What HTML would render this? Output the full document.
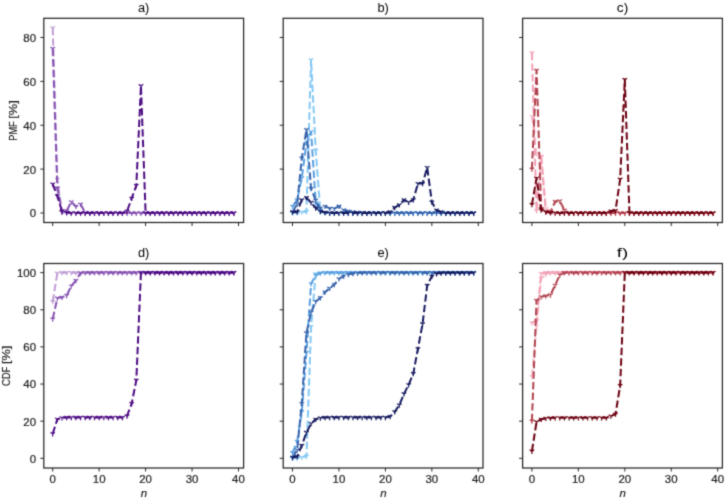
<!DOCTYPE html>
<html><head><meta charset="utf-8"><style>
html,body{margin:0;padding:0;background:#fff;}
body{width:725px;height:498px;overflow:hidden;}
svg{display:block;font-family:"Liberation Sans", sans-serif;will-change:transform;}
</style></head><body><div id="w">
<svg width="725" height="498" viewBox="0 0 725 498">
<rect width="725" height="498" fill="#fff"/>
<defs>
<filter id="bl" x="0" y="0" width="725" height="498" filterUnits="userSpaceOnUse" color-interpolation-filters="sRGB"><feConvolveMatrix order="3" kernelMatrix="0.02560 0.10880 0.02560 0.10880 0.46240 0.10880 0.02560 0.10880 0.02560" divisor="1" edgeMode="duplicate" preserveAlpha="false"/></filter>
<path id="m" d="M0,0V2.7M0,0L-2.3,-1.35M0,0L2.3,-1.35" />
<clipPath id="c00"><rect x="43.8" y="18.3" width="199.8" height="204.2"/></clipPath>
<clipPath id="c01"><rect x="283.2" y="18.3" width="199.8" height="204.2"/></clipPath>
<clipPath id="c02"><rect x="522.6" y="18.3" width="199.8" height="204.2"/></clipPath>
<clipPath id="c10"><rect x="43.8" y="263.5" width="199.8" height="204.5"/></clipPath>
<clipPath id="c11"><rect x="283.2" y="263.5" width="199.8" height="204.5"/></clipPath>
<clipPath id="c12"><rect x="522.6" y="263.5" width="199.8" height="204.5"/></clipPath>
</defs>
<g filter="url(#bl)">
<g clip-path="url(#c00)">
<path d="M52.7,27.83 L57.34,179.43 L61.99,212.34 L66.64,213 L71.28,213 L75.92,213 L80.57,213 L85.22,213 L89.86,213 L94.5,213 L99.15,213 L103.8,213 L108.44,213 L113.08,213 L117.73,213 L122.38,213 L127.02,213 L131.66,213 L136.31,213 L140.95,213 L145.6,213 L150.25,213 L154.89,213 L159.53,213 L164.18,213 L168.82,213 L173.47,213 L178.12,213 L182.76,213 L187.4,213 L192.05,213 L196.69,213 L201.34,213 L205.99,213 L210.63,213 L215.27,213 L219.92,213 L224.56,213 L229.21,213 L233.85,213" fill="none" stroke="#bf9cd4" stroke-width="2" stroke-dasharray="7.4 3.2" stroke-linejoin="round"/>
<g stroke="#bf9cd4" stroke-width="1.25" fill="none"><use href="#m" x="52.7" y="27.83"/><use href="#m" x="57.34" y="179.43"/><use href="#m" x="61.99" y="212.34"/><use href="#m" x="66.64" y="213"/><use href="#m" x="71.28" y="213"/><use href="#m" x="75.92" y="213"/><use href="#m" x="80.57" y="213"/><use href="#m" x="85.22" y="213"/><use href="#m" x="89.86" y="213"/><use href="#m" x="94.5" y="213"/><use href="#m" x="99.15" y="213"/><use href="#m" x="103.8" y="213"/><use href="#m" x="108.44" y="213"/><use href="#m" x="113.08" y="213"/><use href="#m" x="117.73" y="213"/><use href="#m" x="122.38" y="213"/><use href="#m" x="127.02" y="213"/><use href="#m" x="131.66" y="213"/><use href="#m" x="136.31" y="213"/><use href="#m" x="140.95" y="213"/><use href="#m" x="145.6" y="213"/><use href="#m" x="150.25" y="213"/><use href="#m" x="154.89" y="213"/><use href="#m" x="159.53" y="213"/><use href="#m" x="164.18" y="213"/><use href="#m" x="168.82" y="213"/><use href="#m" x="173.47" y="213"/><use href="#m" x="178.12" y="213"/><use href="#m" x="182.76" y="213"/><use href="#m" x="187.4" y="213"/><use href="#m" x="192.05" y="213"/><use href="#m" x="196.69" y="213"/><use href="#m" x="201.34" y="213"/><use href="#m" x="205.99" y="213"/><use href="#m" x="210.63" y="213"/><use href="#m" x="215.27" y="213"/><use href="#m" x="219.92" y="213"/><use href="#m" x="224.56" y="213"/><use href="#m" x="229.21" y="213"/><use href="#m" x="233.85" y="213"/></g>
<path d="M52.7,48.45 L57.34,188.21 L61.99,212.12 L66.64,210.81 L71.28,201.81 L75.92,206.42 L80.57,204.22 L85.22,212.56 L89.86,213 L94.5,213 L99.15,213 L103.8,213 L108.44,213 L113.08,213 L117.73,213 L122.38,213 L127.02,213 L131.66,213 L136.31,213 L140.95,213 L145.6,213 L150.25,213 L154.89,213 L159.53,213 L164.18,213 L168.82,213 L173.47,213 L178.12,213 L182.76,213 L187.4,213 L192.05,213 L196.69,213 L201.34,213 L205.99,213 L210.63,213 L215.27,213 L219.92,213 L224.56,213 L229.21,213 L233.85,213" fill="none" stroke="#8652b2" stroke-width="2" stroke-dasharray="7.4 3.2" stroke-linejoin="round"/>
<g stroke="#8652b2" stroke-width="1.25" fill="none"><use href="#m" x="52.7" y="48.45"/><use href="#m" x="57.34" y="188.21"/><use href="#m" x="61.99" y="212.12"/><use href="#m" x="66.64" y="210.81"/><use href="#m" x="71.28" y="201.81"/><use href="#m" x="75.92" y="206.42"/><use href="#m" x="80.57" y="204.22"/><use href="#m" x="85.22" y="212.56"/><use href="#m" x="89.86" y="213"/><use href="#m" x="94.5" y="213"/><use href="#m" x="99.15" y="213"/><use href="#m" x="103.8" y="213"/><use href="#m" x="108.44" y="213"/><use href="#m" x="113.08" y="213"/><use href="#m" x="117.73" y="213"/><use href="#m" x="122.38" y="213"/><use href="#m" x="127.02" y="213"/><use href="#m" x="131.66" y="213"/><use href="#m" x="136.31" y="213"/><use href="#m" x="140.95" y="213"/><use href="#m" x="145.6" y="213"/><use href="#m" x="150.25" y="213"/><use href="#m" x="154.89" y="213"/><use href="#m" x="159.53" y="213"/><use href="#m" x="164.18" y="213"/><use href="#m" x="168.82" y="213"/><use href="#m" x="173.47" y="213"/><use href="#m" x="178.12" y="213"/><use href="#m" x="182.76" y="213"/><use href="#m" x="187.4" y="213"/><use href="#m" x="192.05" y="213"/><use href="#m" x="196.69" y="213"/><use href="#m" x="201.34" y="213"/><use href="#m" x="205.99" y="213"/><use href="#m" x="210.63" y="213"/><use href="#m" x="215.27" y="213"/><use href="#m" x="219.92" y="213"/><use href="#m" x="224.56" y="213"/><use href="#m" x="229.21" y="213"/><use href="#m" x="233.85" y="213"/></g>
<path d="M52.7,184.04 L57.34,195.89 L61.99,211.24 L66.64,212.56 L71.28,213 L75.92,213 L80.57,213 L85.22,213 L89.86,213 L94.5,213 L99.15,213 L103.8,213 L108.44,213 L113.08,213 L117.73,213 L122.38,213 L127.02,211.24 L131.66,198.3 L136.31,185.57 L140.95,85.75 L145.6,213 L150.25,213 L154.89,213 L159.53,213 L164.18,213 L168.82,213 L173.47,213 L178.12,213 L182.76,213 L187.4,213 L192.05,213 L196.69,213 L201.34,213 L205.99,213 L210.63,213 L215.27,213 L219.92,213 L224.56,213 L229.21,213 L233.85,213" fill="none" stroke="#4b0a82" stroke-width="2" stroke-dasharray="7.4 3.2" stroke-linejoin="round"/>
<g stroke="#4b0a82" stroke-width="1.25" fill="none"><use href="#m" x="52.7" y="184.04"/><use href="#m" x="57.34" y="195.89"/><use href="#m" x="61.99" y="211.24"/><use href="#m" x="66.64" y="212.56"/><use href="#m" x="71.28" y="213"/><use href="#m" x="75.92" y="213"/><use href="#m" x="80.57" y="213"/><use href="#m" x="85.22" y="213"/><use href="#m" x="89.86" y="213"/><use href="#m" x="94.5" y="213"/><use href="#m" x="99.15" y="213"/><use href="#m" x="103.8" y="213"/><use href="#m" x="108.44" y="213"/><use href="#m" x="113.08" y="213"/><use href="#m" x="117.73" y="213"/><use href="#m" x="122.38" y="213"/><use href="#m" x="127.02" y="211.24"/><use href="#m" x="131.66" y="198.3"/><use href="#m" x="136.31" y="185.57"/><use href="#m" x="140.95" y="85.75"/><use href="#m" x="145.6" y="213"/><use href="#m" x="150.25" y="213"/><use href="#m" x="154.89" y="213"/><use href="#m" x="159.53" y="213"/><use href="#m" x="164.18" y="213"/><use href="#m" x="168.82" y="213"/><use href="#m" x="173.47" y="213"/><use href="#m" x="178.12" y="213"/><use href="#m" x="182.76" y="213"/><use href="#m" x="187.4" y="213"/><use href="#m" x="192.05" y="213"/><use href="#m" x="196.69" y="213"/><use href="#m" x="201.34" y="213"/><use href="#m" x="205.99" y="213"/><use href="#m" x="210.63" y="213"/><use href="#m" x="215.27" y="213"/><use href="#m" x="219.92" y="213"/><use href="#m" x="224.56" y="213"/><use href="#m" x="229.21" y="213"/><use href="#m" x="233.85" y="213"/></g>
</g>
<g clip-path="url(#c01)">
<path d="M292.5,213 L297.14,212.78 L301.79,212.12 L306.44,211.68 L311.08,59.86 L315.73,150.47 L320.37,211.9 L325.01,212.78 L329.66,213 L334.31,213 L338.95,213 L343.6,213 L348.24,213 L352.88,213 L357.53,213 L362.18,213 L366.82,213 L371.46,213 L376.11,213 L380.75,213 L385.4,213 L390.04,213 L394.69,213 L399.33,213 L403.98,213 L408.62,213 L413.27,213 L417.91,213 L422.56,213 L427.2,213 L431.85,213 L436.5,213 L441.14,213 L445.78,213 L450.43,213 L455.07,213 L459.72,213 L464.37,213 L469.01,213 L473.65,213" fill="none" stroke="#84c8f4" stroke-width="2" stroke-dasharray="7.4 3.2" stroke-linejoin="round"/>
<g stroke="#84c8f4" stroke-width="1.25" fill="none"><use href="#m" x="292.5" y="213"/><use href="#m" x="297.14" y="212.78"/><use href="#m" x="301.79" y="212.12"/><use href="#m" x="306.44" y="211.68"/><use href="#m" x="311.08" y="59.86"/><use href="#m" x="315.73" y="150.47"/><use href="#m" x="320.37" y="211.9"/><use href="#m" x="325.01" y="212.78"/><use href="#m" x="329.66" y="213"/><use href="#m" x="334.31" y="213"/><use href="#m" x="338.95" y="213"/><use href="#m" x="343.6" y="213"/><use href="#m" x="348.24" y="213"/><use href="#m" x="352.88" y="213"/><use href="#m" x="357.53" y="213"/><use href="#m" x="362.18" y="213"/><use href="#m" x="366.82" y="213"/><use href="#m" x="371.46" y="213"/><use href="#m" x="376.11" y="213"/><use href="#m" x="380.75" y="213"/><use href="#m" x="385.4" y="213"/><use href="#m" x="390.04" y="213"/><use href="#m" x="394.69" y="213"/><use href="#m" x="399.33" y="213"/><use href="#m" x="403.98" y="213"/><use href="#m" x="408.62" y="213"/><use href="#m" x="413.27" y="213"/><use href="#m" x="417.91" y="213"/><use href="#m" x="422.56" y="213"/><use href="#m" x="427.2" y="213"/><use href="#m" x="431.85" y="213"/><use href="#m" x="436.5" y="213"/><use href="#m" x="441.14" y="213"/><use href="#m" x="445.78" y="213"/><use href="#m" x="450.43" y="213"/><use href="#m" x="455.07" y="213"/><use href="#m" x="459.72" y="213"/><use href="#m" x="464.37" y="213"/><use href="#m" x="469.01" y="213"/><use href="#m" x="473.65" y="213"/></g>
<path d="M292.5,206.42 L297.14,199.84 L301.79,177.9 L306.44,142.79 L311.08,131.82 L315.73,202.91 L320.37,210.37 L325.01,212.56 L329.66,213 L334.31,213 L338.95,213 L343.6,213 L348.24,213 L352.88,213 L357.53,213 L362.18,213 L366.82,213 L371.46,213 L376.11,213 L380.75,213 L385.4,213 L390.04,213 L394.69,213 L399.33,213 L403.98,213 L408.62,213 L413.27,213 L417.91,213 L422.56,213 L427.2,213 L431.85,213 L436.5,213 L441.14,213 L445.78,213 L450.43,213 L455.07,213 L459.72,213 L464.37,213 L469.01,213 L473.65,213" fill="none" stroke="#5a9fe0" stroke-width="2" stroke-dasharray="7.4 3.2" stroke-linejoin="round"/>
<g stroke="#5a9fe0" stroke-width="1.25" fill="none"><use href="#m" x="292.5" y="206.42"/><use href="#m" x="297.14" y="199.84"/><use href="#m" x="301.79" y="177.9"/><use href="#m" x="306.44" y="142.79"/><use href="#m" x="311.08" y="131.82"/><use href="#m" x="315.73" y="202.91"/><use href="#m" x="320.37" y="210.37"/><use href="#m" x="325.01" y="212.56"/><use href="#m" x="329.66" y="213"/><use href="#m" x="334.31" y="213"/><use href="#m" x="338.95" y="213"/><use href="#m" x="343.6" y="213"/><use href="#m" x="348.24" y="213"/><use href="#m" x="352.88" y="213"/><use href="#m" x="357.53" y="213"/><use href="#m" x="362.18" y="213"/><use href="#m" x="366.82" y="213"/><use href="#m" x="371.46" y="213"/><use href="#m" x="376.11" y="213"/><use href="#m" x="380.75" y="213"/><use href="#m" x="385.4" y="213"/><use href="#m" x="390.04" y="213"/><use href="#m" x="394.69" y="213"/><use href="#m" x="399.33" y="213"/><use href="#m" x="403.98" y="213"/><use href="#m" x="408.62" y="213"/><use href="#m" x="413.27" y="213"/><use href="#m" x="417.91" y="213"/><use href="#m" x="422.56" y="213"/><use href="#m" x="427.2" y="213"/><use href="#m" x="431.85" y="213"/><use href="#m" x="436.5" y="213"/><use href="#m" x="441.14" y="213"/><use href="#m" x="445.78" y="213"/><use href="#m" x="450.43" y="213"/><use href="#m" x="455.07" y="213"/><use href="#m" x="459.72" y="213"/><use href="#m" x="464.37" y="213"/><use href="#m" x="469.01" y="213"/><use href="#m" x="473.65" y="213"/></g>
<path d="M292.5,211.9 L297.14,204.22 L301.79,158.15 L306.44,129.63 L311.08,188.65 L315.73,200.27 L320.37,208.39 L325.01,206.42 L329.66,208.39 L334.31,208.61 L338.95,206.2 L343.6,209.93 L348.24,211.03 L352.88,211.9 L357.53,212.34 L362.18,212.56 L366.82,213 L371.46,213 L376.11,213 L380.75,213 L385.4,213 L390.04,213 L394.69,213 L399.33,213 L403.98,213 L408.62,213 L413.27,213 L417.91,213 L422.56,213 L427.2,213 L431.85,213 L436.5,213 L441.14,213 L445.78,213 L450.43,213 L455.07,213 L459.72,213 L464.37,213 L469.01,213 L473.65,213" fill="none" stroke="#3763ab" stroke-width="2" stroke-dasharray="7.4 3.2" stroke-linejoin="round"/>
<g stroke="#3763ab" stroke-width="1.25" fill="none"><use href="#m" x="292.5" y="211.9"/><use href="#m" x="297.14" y="204.22"/><use href="#m" x="301.79" y="158.15"/><use href="#m" x="306.44" y="129.63"/><use href="#m" x="311.08" y="188.65"/><use href="#m" x="315.73" y="200.27"/><use href="#m" x="320.37" y="208.39"/><use href="#m" x="325.01" y="206.42"/><use href="#m" x="329.66" y="208.39"/><use href="#m" x="334.31" y="208.61"/><use href="#m" x="338.95" y="206.2"/><use href="#m" x="343.6" y="209.93"/><use href="#m" x="348.24" y="211.03"/><use href="#m" x="352.88" y="211.9"/><use href="#m" x="357.53" y="212.34"/><use href="#m" x="362.18" y="212.56"/><use href="#m" x="366.82" y="213"/><use href="#m" x="371.46" y="213"/><use href="#m" x="376.11" y="213"/><use href="#m" x="380.75" y="213"/><use href="#m" x="385.4" y="213"/><use href="#m" x="390.04" y="213"/><use href="#m" x="394.69" y="213"/><use href="#m" x="399.33" y="213"/><use href="#m" x="403.98" y="213"/><use href="#m" x="408.62" y="213"/><use href="#m" x="413.27" y="213"/><use href="#m" x="417.91" y="213"/><use href="#m" x="422.56" y="213"/><use href="#m" x="427.2" y="213"/><use href="#m" x="431.85" y="213"/><use href="#m" x="436.5" y="213"/><use href="#m" x="441.14" y="213"/><use href="#m" x="445.78" y="213"/><use href="#m" x="450.43" y="213"/><use href="#m" x="455.07" y="213"/><use href="#m" x="459.72" y="213"/><use href="#m" x="464.37" y="213"/><use href="#m" x="469.01" y="213"/><use href="#m" x="473.65" y="213"/></g>
<path d="M292.5,212.12 L297.14,211.9 L301.79,199.84 L306.44,197.64 L311.08,202.47 L315.73,207.95 L320.37,211.46 L325.01,212.34 L329.66,213 L334.31,213 L338.95,213 L343.6,213 L348.24,213 L352.88,213 L357.53,213 L362.18,213 L366.82,213 L371.46,213 L376.11,213 L380.75,213 L385.4,213 L390.04,211.9 L394.69,207.51 L399.33,204.88 L403.98,199.84 L408.62,202.25 L413.27,199.84 L417.91,183.6 L422.56,183.6 L427.2,167.58 L431.85,202.03 L436.5,210.15 L441.14,211.9 L445.78,213 L450.43,213 L455.07,213 L459.72,213 L464.37,213 L469.01,213 L473.65,213" fill="none" stroke="#16195e" stroke-width="2" stroke-dasharray="7.4 3.2" stroke-linejoin="round"/>
<g stroke="#16195e" stroke-width="1.25" fill="none"><use href="#m" x="292.5" y="212.12"/><use href="#m" x="297.14" y="211.9"/><use href="#m" x="301.79" y="199.84"/><use href="#m" x="306.44" y="197.64"/><use href="#m" x="311.08" y="202.47"/><use href="#m" x="315.73" y="207.95"/><use href="#m" x="320.37" y="211.46"/><use href="#m" x="325.01" y="212.34"/><use href="#m" x="329.66" y="213"/><use href="#m" x="334.31" y="213"/><use href="#m" x="338.95" y="213"/><use href="#m" x="343.6" y="213"/><use href="#m" x="348.24" y="213"/><use href="#m" x="352.88" y="213"/><use href="#m" x="357.53" y="213"/><use href="#m" x="362.18" y="213"/><use href="#m" x="366.82" y="213"/><use href="#m" x="371.46" y="213"/><use href="#m" x="376.11" y="213"/><use href="#m" x="380.75" y="213"/><use href="#m" x="385.4" y="213"/><use href="#m" x="390.04" y="211.9"/><use href="#m" x="394.69" y="207.51"/><use href="#m" x="399.33" y="204.88"/><use href="#m" x="403.98" y="199.84"/><use href="#m" x="408.62" y="202.25"/><use href="#m" x="413.27" y="199.84"/><use href="#m" x="417.91" y="183.6"/><use href="#m" x="422.56" y="183.6"/><use href="#m" x="427.2" y="167.58"/><use href="#m" x="431.85" y="202.03"/><use href="#m" x="436.5" y="210.15"/><use href="#m" x="441.14" y="211.9"/><use href="#m" x="445.78" y="213"/><use href="#m" x="450.43" y="213"/><use href="#m" x="455.07" y="213"/><use href="#m" x="459.72" y="213"/><use href="#m" x="464.37" y="213"/><use href="#m" x="469.01" y="213"/><use href="#m" x="473.65" y="213"/></g>
</g>
<g clip-path="url(#c02)">
<path d="M531.9,116.46 L536.54,153.76 L541.19,155.96 L545.83,208.61 L550.48,210.81 L555.12,213 L559.77,213 L564.41,213 L569.06,213 L573.7,213 L578.35,213 L583,213 L587.64,213 L592.28,213 L596.93,213 L601.57,213 L606.22,213 L610.87,213 L615.51,213 L620.15,213 L624.8,213 L629.44,213 L634.09,213 L638.74,213 L643.38,213 L648.02,213 L652.67,213 L657.31,213 L661.96,213 L666.61,213 L671.25,213 L675.89,213 L680.54,213 L685.18,213 L689.83,213 L694.47,213 L699.12,213 L703.76,213 L708.41,213 L713.05,213" fill="none" stroke="#f6bccb" stroke-width="2" stroke-dasharray="7.4 3.2" stroke-linejoin="round"/>
<g stroke="#f6bccb" stroke-width="1.25" fill="none"><use href="#m" x="531.9" y="116.46"/><use href="#m" x="536.54" y="153.76"/><use href="#m" x="541.19" y="155.96"/><use href="#m" x="545.83" y="208.61"/><use href="#m" x="550.48" y="210.81"/><use href="#m" x="555.12" y="213"/><use href="#m" x="559.77" y="213"/><use href="#m" x="564.41" y="213"/><use href="#m" x="569.06" y="213"/><use href="#m" x="573.7" y="213"/><use href="#m" x="578.35" y="213"/><use href="#m" x="583" y="213"/><use href="#m" x="587.64" y="213"/><use href="#m" x="592.28" y="213"/><use href="#m" x="596.93" y="213"/><use href="#m" x="601.57" y="213"/><use href="#m" x="606.22" y="213"/><use href="#m" x="610.87" y="213"/><use href="#m" x="615.51" y="213"/><use href="#m" x="620.15" y="213"/><use href="#m" x="624.8" y="213"/><use href="#m" x="629.44" y="213"/><use href="#m" x="634.09" y="213"/><use href="#m" x="638.74" y="213"/><use href="#m" x="643.38" y="213"/><use href="#m" x="648.02" y="213"/><use href="#m" x="652.67" y="213"/><use href="#m" x="657.31" y="213"/><use href="#m" x="661.96" y="213"/><use href="#m" x="666.61" y="213"/><use href="#m" x="671.25" y="213"/><use href="#m" x="675.89" y="213"/><use href="#m" x="680.54" y="213"/><use href="#m" x="685.18" y="213"/><use href="#m" x="689.83" y="213"/><use href="#m" x="694.47" y="213"/><use href="#m" x="699.12" y="213"/><use href="#m" x="703.76" y="213"/><use href="#m" x="708.41" y="213"/><use href="#m" x="713.05" y="213"/></g>
<path d="M531.9,52.84 L536.54,210.81 L541.19,157.05 L545.83,211.9 L550.48,213 L555.12,213 L559.77,213 L564.41,213 L569.06,213 L573.7,213 L578.35,213 L583,213 L587.64,213 L592.28,213 L596.93,213 L601.57,213 L606.22,213 L610.87,213 L615.51,213 L620.15,213 L624.8,213 L629.44,213 L634.09,213 L638.74,213 L643.38,213 L648.02,213 L652.67,213 L657.31,213 L661.96,213 L666.61,213 L671.25,213 L675.89,213 L680.54,213 L685.18,213 L689.83,213 L694.47,213 L699.12,213 L703.76,213 L708.41,213 L713.05,213" fill="none" stroke="#f2a0b4" stroke-width="2" stroke-dasharray="7.4 3.2" stroke-linejoin="round"/>
<g stroke="#f2a0b4" stroke-width="1.25" fill="none"><use href="#m" x="531.9" y="52.84"/><use href="#m" x="536.54" y="210.81"/><use href="#m" x="541.19" y="157.05"/><use href="#m" x="545.83" y="211.9"/><use href="#m" x="550.48" y="213"/><use href="#m" x="555.12" y="213"/><use href="#m" x="559.77" y="213"/><use href="#m" x="564.41" y="213"/><use href="#m" x="569.06" y="213"/><use href="#m" x="573.7" y="213"/><use href="#m" x="578.35" y="213"/><use href="#m" x="583" y="213"/><use href="#m" x="587.64" y="213"/><use href="#m" x="592.28" y="213"/><use href="#m" x="596.93" y="213"/><use href="#m" x="601.57" y="213"/><use href="#m" x="606.22" y="213"/><use href="#m" x="610.87" y="213"/><use href="#m" x="615.51" y="213"/><use href="#m" x="620.15" y="213"/><use href="#m" x="624.8" y="213"/><use href="#m" x="629.44" y="213"/><use href="#m" x="634.09" y="213"/><use href="#m" x="638.74" y="213"/><use href="#m" x="643.38" y="213"/><use href="#m" x="648.02" y="213"/><use href="#m" x="652.67" y="213"/><use href="#m" x="657.31" y="213"/><use href="#m" x="661.96" y="213"/><use href="#m" x="666.61" y="213"/><use href="#m" x="671.25" y="213"/><use href="#m" x="675.89" y="213"/><use href="#m" x="680.54" y="213"/><use href="#m" x="685.18" y="213"/><use href="#m" x="689.83" y="213"/><use href="#m" x="694.47" y="213"/><use href="#m" x="699.12" y="213"/><use href="#m" x="703.76" y="213"/><use href="#m" x="708.41" y="213"/><use href="#m" x="713.05" y="213"/></g>
<path d="M531.9,169.12 L536.54,70.39 L541.19,208.61 L545.83,211.9 L550.48,211.9 L555.12,201.59 L559.77,200.93 L564.41,210.15 L569.06,213 L573.7,213 L578.35,213 L583,213 L587.64,213 L592.28,213 L596.93,213 L601.57,213 L606.22,213 L610.87,213 L615.51,213 L620.15,213 L624.8,213 L629.44,213 L634.09,213 L638.74,213 L643.38,213 L648.02,213 L652.67,213 L657.31,213 L661.96,213 L666.61,213 L671.25,213 L675.89,213 L680.54,213 L685.18,213 L689.83,213 L694.47,213 L699.12,213 L703.76,213 L708.41,213 L713.05,213" fill="none" stroke="#b0424e" stroke-width="2" stroke-dasharray="7.4 3.2" stroke-linejoin="round"/>
<g stroke="#b0424e" stroke-width="1.25" fill="none"><use href="#m" x="531.9" y="169.12"/><use href="#m" x="536.54" y="70.39"/><use href="#m" x="541.19" y="208.61"/><use href="#m" x="545.83" y="211.9"/><use href="#m" x="550.48" y="211.9"/><use href="#m" x="555.12" y="201.59"/><use href="#m" x="559.77" y="200.93"/><use href="#m" x="564.41" y="210.15"/><use href="#m" x="569.06" y="213"/><use href="#m" x="573.7" y="213"/><use href="#m" x="578.35" y="213"/><use href="#m" x="583" y="213"/><use href="#m" x="587.64" y="213"/><use href="#m" x="592.28" y="213"/><use href="#m" x="596.93" y="213"/><use href="#m" x="601.57" y="213"/><use href="#m" x="606.22" y="213"/><use href="#m" x="610.87" y="213"/><use href="#m" x="615.51" y="213"/><use href="#m" x="620.15" y="213"/><use href="#m" x="624.8" y="213"/><use href="#m" x="629.44" y="213"/><use href="#m" x="634.09" y="213"/><use href="#m" x="638.74" y="213"/><use href="#m" x="643.38" y="213"/><use href="#m" x="648.02" y="213"/><use href="#m" x="652.67" y="213"/><use href="#m" x="657.31" y="213"/><use href="#m" x="661.96" y="213"/><use href="#m" x="666.61" y="213"/><use href="#m" x="671.25" y="213"/><use href="#m" x="675.89" y="213"/><use href="#m" x="680.54" y="213"/><use href="#m" x="685.18" y="213"/><use href="#m" x="689.83" y="213"/><use href="#m" x="694.47" y="213"/><use href="#m" x="699.12" y="213"/><use href="#m" x="703.76" y="213"/><use href="#m" x="708.41" y="213"/><use href="#m" x="713.05" y="213"/></g>
<path d="M531.9,204.66 L536.54,178.33 L541.19,209.93 L545.83,211.9 L550.48,212.56 L555.12,212.78 L559.77,213 L564.41,213 L569.06,213 L573.7,213 L578.35,213 L583,213 L587.64,213 L592.28,213 L596.93,213 L601.57,213 L606.22,213 L610.87,211.03 L615.51,210.59 L620.15,179.21 L624.8,79.6 L629.44,213 L634.09,213 L638.74,213 L643.38,213 L648.02,213 L652.67,213 L657.31,213 L661.96,213 L666.61,213 L671.25,213 L675.89,213 L680.54,213 L685.18,213 L689.83,213 L694.47,213 L699.12,213 L703.76,213 L708.41,213 L713.05,213" fill="none" stroke="#6b0010" stroke-width="2" stroke-dasharray="7.4 3.2" stroke-linejoin="round"/>
<g stroke="#6b0010" stroke-width="1.25" fill="none"><use href="#m" x="531.9" y="204.66"/><use href="#m" x="536.54" y="178.33"/><use href="#m" x="541.19" y="209.93"/><use href="#m" x="545.83" y="211.9"/><use href="#m" x="550.48" y="212.56"/><use href="#m" x="555.12" y="212.78"/><use href="#m" x="559.77" y="213"/><use href="#m" x="564.41" y="213"/><use href="#m" x="569.06" y="213"/><use href="#m" x="573.7" y="213"/><use href="#m" x="578.35" y="213"/><use href="#m" x="583" y="213"/><use href="#m" x="587.64" y="213"/><use href="#m" x="592.28" y="213"/><use href="#m" x="596.93" y="213"/><use href="#m" x="601.57" y="213"/><use href="#m" x="606.22" y="213"/><use href="#m" x="610.87" y="211.03"/><use href="#m" x="615.51" y="210.59"/><use href="#m" x="620.15" y="179.21"/><use href="#m" x="624.8" y="79.6"/><use href="#m" x="629.44" y="213"/><use href="#m" x="634.09" y="213"/><use href="#m" x="638.74" y="213"/><use href="#m" x="643.38" y="213"/><use href="#m" x="648.02" y="213"/><use href="#m" x="652.67" y="213"/><use href="#m" x="657.31" y="213"/><use href="#m" x="661.96" y="213"/><use href="#m" x="666.61" y="213"/><use href="#m" x="671.25" y="213"/><use href="#m" x="675.89" y="213"/><use href="#m" x="680.54" y="213"/><use href="#m" x="685.18" y="213"/><use href="#m" x="689.83" y="213"/><use href="#m" x="694.47" y="213"/><use href="#m" x="699.12" y="213"/><use href="#m" x="703.76" y="213"/><use href="#m" x="708.41" y="213"/><use href="#m" x="713.05" y="213"/></g>
</g>
<g clip-path="url(#c10)">
<path d="M52.7,301.61 L57.34,273.21 L61.99,272.65 L66.64,272.65 L71.28,272.65 L75.92,272.65 L80.57,272.65 L85.22,272.65 L89.86,272.65 L94.5,272.65 L99.15,272.65 L103.8,272.65 L108.44,272.65 L113.08,272.65 L117.73,272.65 L122.38,272.65 L127.02,272.65 L131.66,272.65 L136.31,272.65 L140.95,272.65 L145.6,272.65 L150.25,272.65 L154.89,272.65 L159.53,272.65 L164.18,272.65 L168.82,272.65 L173.47,272.65 L178.12,272.65 L182.76,272.65 L187.4,272.65 L192.05,272.65 L196.69,272.65 L201.34,272.65 L205.99,272.65 L210.63,272.65 L215.27,272.65 L219.92,272.65 L224.56,272.65 L229.21,272.65 L233.85,272.65" fill="none" stroke="#bf9cd4" stroke-width="2" stroke-dasharray="7.4 3.2" stroke-linejoin="round"/>
<g stroke="#bf9cd4" stroke-width="1.25" fill="none"><use href="#m" x="52.7" y="301.61"/><use href="#m" x="57.34" y="273.21"/><use href="#m" x="61.99" y="272.65"/><use href="#m" x="66.64" y="272.65"/><use href="#m" x="71.28" y="272.65"/><use href="#m" x="75.92" y="272.65"/><use href="#m" x="80.57" y="272.65"/><use href="#m" x="85.22" y="272.65"/><use href="#m" x="89.86" y="272.65"/><use href="#m" x="94.5" y="272.65"/><use href="#m" x="99.15" y="272.65"/><use href="#m" x="103.8" y="272.65"/><use href="#m" x="108.44" y="272.65"/><use href="#m" x="113.08" y="272.65"/><use href="#m" x="117.73" y="272.65"/><use href="#m" x="122.38" y="272.65"/><use href="#m" x="127.02" y="272.65"/><use href="#m" x="131.66" y="272.65"/><use href="#m" x="136.31" y="272.65"/><use href="#m" x="140.95" y="272.65"/><use href="#m" x="145.6" y="272.65"/><use href="#m" x="150.25" y="272.65"/><use href="#m" x="154.89" y="272.65"/><use href="#m" x="159.53" y="272.65"/><use href="#m" x="164.18" y="272.65"/><use href="#m" x="168.82" y="272.65"/><use href="#m" x="173.47" y="272.65"/><use href="#m" x="178.12" y="272.65"/><use href="#m" x="182.76" y="272.65"/><use href="#m" x="187.4" y="272.65"/><use href="#m" x="192.05" y="272.65"/><use href="#m" x="196.69" y="272.65"/><use href="#m" x="201.34" y="272.65"/><use href="#m" x="205.99" y="272.65"/><use href="#m" x="210.63" y="272.65"/><use href="#m" x="215.27" y="272.65"/><use href="#m" x="219.92" y="272.65"/><use href="#m" x="224.56" y="272.65"/><use href="#m" x="229.21" y="272.65"/><use href="#m" x="233.85" y="272.65"/></g>
<path d="M52.7,319.06 L57.34,298.08 L61.99,297.34 L66.64,295.48 L71.28,286.02 L75.92,280.45 L80.57,273.02 L85.22,272.65 L89.86,272.65 L94.5,272.65 L99.15,272.65 L103.8,272.65 L108.44,272.65 L113.08,272.65 L117.73,272.65 L122.38,272.65 L127.02,272.65 L131.66,272.65 L136.31,272.65 L140.95,272.65 L145.6,272.65 L150.25,272.65 L154.89,272.65 L159.53,272.65 L164.18,272.65 L168.82,272.65 L173.47,272.65 L178.12,272.65 L182.76,272.65 L187.4,272.65 L192.05,272.65 L196.69,272.65 L201.34,272.65 L205.99,272.65 L210.63,272.65 L215.27,272.65 L219.92,272.65 L224.56,272.65 L229.21,272.65 L233.85,272.65" fill="none" stroke="#8652b2" stroke-width="2" stroke-dasharray="7.4 3.2" stroke-linejoin="round"/>
<g stroke="#8652b2" stroke-width="1.25" fill="none"><use href="#m" x="52.7" y="319.06"/><use href="#m" x="57.34" y="298.08"/><use href="#m" x="61.99" y="297.34"/><use href="#m" x="66.64" y="295.48"/><use href="#m" x="71.28" y="286.02"/><use href="#m" x="75.92" y="280.45"/><use href="#m" x="80.57" y="273.02"/><use href="#m" x="85.22" y="272.65"/><use href="#m" x="89.86" y="272.65"/><use href="#m" x="94.5" y="272.65"/><use href="#m" x="99.15" y="272.65"/><use href="#m" x="103.8" y="272.65"/><use href="#m" x="108.44" y="272.65"/><use href="#m" x="113.08" y="272.65"/><use href="#m" x="117.73" y="272.65"/><use href="#m" x="122.38" y="272.65"/><use href="#m" x="127.02" y="272.65"/><use href="#m" x="131.66" y="272.65"/><use href="#m" x="136.31" y="272.65"/><use href="#m" x="140.95" y="272.65"/><use href="#m" x="145.6" y="272.65"/><use href="#m" x="150.25" y="272.65"/><use href="#m" x="154.89" y="272.65"/><use href="#m" x="159.53" y="272.65"/><use href="#m" x="164.18" y="272.65"/><use href="#m" x="168.82" y="272.65"/><use href="#m" x="173.47" y="272.65"/><use href="#m" x="178.12" y="272.65"/><use href="#m" x="182.76" y="272.65"/><use href="#m" x="187.4" y="272.65"/><use href="#m" x="192.05" y="272.65"/><use href="#m" x="196.69" y="272.65"/><use href="#m" x="201.34" y="272.65"/><use href="#m" x="205.99" y="272.65"/><use href="#m" x="210.63" y="272.65"/><use href="#m" x="215.27" y="272.65"/><use href="#m" x="219.92" y="272.65"/><use href="#m" x="224.56" y="272.65"/><use href="#m" x="229.21" y="272.65"/><use href="#m" x="233.85" y="272.65"/></g>
<path d="M52.7,433.79 L57.34,419.31 L61.99,417.83 L66.64,417.46 L71.28,417.46 L75.92,417.46 L80.57,417.46 L85.22,417.46 L89.86,417.46 L94.5,417.46 L99.15,417.46 L103.8,417.46 L108.44,417.46 L113.08,417.46 L117.73,417.46 L122.38,417.46 L127.02,415.97 L131.66,403.53 L136.31,380.33 L140.95,272.65 L145.6,272.65 L150.25,272.65 L154.89,272.65 L159.53,272.65 L164.18,272.65 L168.82,272.65 L173.47,272.65 L178.12,272.65 L182.76,272.65 L187.4,272.65 L192.05,272.65 L196.69,272.65 L201.34,272.65 L205.99,272.65 L210.63,272.65 L215.27,272.65 L219.92,272.65 L224.56,272.65 L229.21,272.65 L233.85,272.65" fill="none" stroke="#4b0a82" stroke-width="2" stroke-dasharray="7.4 3.2" stroke-linejoin="round"/>
<g stroke="#4b0a82" stroke-width="1.25" fill="none"><use href="#m" x="52.7" y="433.79"/><use href="#m" x="57.34" y="419.31"/><use href="#m" x="61.99" y="417.83"/><use href="#m" x="66.64" y="417.46"/><use href="#m" x="71.28" y="417.46"/><use href="#m" x="75.92" y="417.46"/><use href="#m" x="80.57" y="417.46"/><use href="#m" x="85.22" y="417.46"/><use href="#m" x="89.86" y="417.46"/><use href="#m" x="94.5" y="417.46"/><use href="#m" x="99.15" y="417.46"/><use href="#m" x="103.8" y="417.46"/><use href="#m" x="108.44" y="417.46"/><use href="#m" x="113.08" y="417.46"/><use href="#m" x="117.73" y="417.46"/><use href="#m" x="122.38" y="417.46"/><use href="#m" x="127.02" y="415.97"/><use href="#m" x="131.66" y="403.53"/><use href="#m" x="136.31" y="380.33"/><use href="#m" x="140.95" y="272.65"/><use href="#m" x="145.6" y="272.65"/><use href="#m" x="150.25" y="272.65"/><use href="#m" x="154.89" y="272.65"/><use href="#m" x="159.53" y="272.65"/><use href="#m" x="164.18" y="272.65"/><use href="#m" x="168.82" y="272.65"/><use href="#m" x="173.47" y="272.65"/><use href="#m" x="178.12" y="272.65"/><use href="#m" x="182.76" y="272.65"/><use href="#m" x="187.4" y="272.65"/><use href="#m" x="192.05" y="272.65"/><use href="#m" x="196.69" y="272.65"/><use href="#m" x="201.34" y="272.65"/><use href="#m" x="205.99" y="272.65"/><use href="#m" x="210.63" y="272.65"/><use href="#m" x="215.27" y="272.65"/><use href="#m" x="219.92" y="272.65"/><use href="#m" x="224.56" y="272.65"/><use href="#m" x="229.21" y="272.65"/><use href="#m" x="233.85" y="272.65"/></g>
</g>
<g clip-path="url(#c11)">
<path d="M292.5,458.3 L297.14,458.11 L301.79,457.37 L306.44,456.26 L311.08,326.67 L315.73,273.76 L320.37,272.84 L325.01,272.65 L329.66,272.65 L334.31,272.65 L338.95,272.65 L343.6,272.65 L348.24,272.65 L352.88,272.65 L357.53,272.65 L362.18,272.65 L366.82,272.65 L371.46,272.65 L376.11,272.65 L380.75,272.65 L385.4,272.65 L390.04,272.65 L394.69,272.65 L399.33,272.65 L403.98,272.65 L408.62,272.65 L413.27,272.65 L417.91,272.65 L422.56,272.65 L427.2,272.65 L431.85,272.65 L436.5,272.65 L441.14,272.65 L445.78,272.65 L450.43,272.65 L455.07,272.65 L459.72,272.65 L464.37,272.65 L469.01,272.65 L473.65,272.65" fill="none" stroke="#84c8f4" stroke-width="2" stroke-dasharray="7.4 3.2" stroke-linejoin="round"/>
<g stroke="#84c8f4" stroke-width="1.25" fill="none"><use href="#m" x="292.5" y="458.3"/><use href="#m" x="297.14" y="458.11"/><use href="#m" x="301.79" y="457.37"/><use href="#m" x="306.44" y="456.26"/><use href="#m" x="311.08" y="326.67"/><use href="#m" x="315.73" y="273.76"/><use href="#m" x="320.37" y="272.84"/><use href="#m" x="325.01" y="272.65"/><use href="#m" x="329.66" y="272.65"/><use href="#m" x="334.31" y="272.65"/><use href="#m" x="338.95" y="272.65"/><use href="#m" x="343.6" y="272.65"/><use href="#m" x="348.24" y="272.65"/><use href="#m" x="352.88" y="272.65"/><use href="#m" x="357.53" y="272.65"/><use href="#m" x="362.18" y="272.65"/><use href="#m" x="366.82" y="272.65"/><use href="#m" x="371.46" y="272.65"/><use href="#m" x="376.11" y="272.65"/><use href="#m" x="380.75" y="272.65"/><use href="#m" x="385.4" y="272.65"/><use href="#m" x="390.04" y="272.65"/><use href="#m" x="394.69" y="272.65"/><use href="#m" x="399.33" y="272.65"/><use href="#m" x="403.98" y="272.65"/><use href="#m" x="408.62" y="272.65"/><use href="#m" x="413.27" y="272.65"/><use href="#m" x="417.91" y="272.65"/><use href="#m" x="422.56" y="272.65"/><use href="#m" x="427.2" y="272.65"/><use href="#m" x="431.85" y="272.65"/><use href="#m" x="436.5" y="272.65"/><use href="#m" x="441.14" y="272.65"/><use href="#m" x="445.78" y="272.65"/><use href="#m" x="450.43" y="272.65"/><use href="#m" x="455.07" y="272.65"/><use href="#m" x="459.72" y="272.65"/><use href="#m" x="464.37" y="272.65"/><use href="#m" x="469.01" y="272.65"/><use href="#m" x="473.65" y="272.65"/></g>
<path d="M292.5,452.73 L297.14,441.59 L301.79,411.89 L306.44,352.48 L311.08,283.79 L315.73,275.25 L320.37,273.02 L325.01,272.65 L329.66,272.65 L334.31,272.65 L338.95,272.65 L343.6,272.65 L348.24,272.65 L352.88,272.65 L357.53,272.65 L362.18,272.65 L366.82,272.65 L371.46,272.65 L376.11,272.65 L380.75,272.65 L385.4,272.65 L390.04,272.65 L394.69,272.65 L399.33,272.65 L403.98,272.65 L408.62,272.65 L413.27,272.65 L417.91,272.65 L422.56,272.65 L427.2,272.65 L431.85,272.65 L436.5,272.65 L441.14,272.65 L445.78,272.65 L450.43,272.65 L455.07,272.65 L459.72,272.65 L464.37,272.65 L469.01,272.65 L473.65,272.65" fill="none" stroke="#5a9fe0" stroke-width="2" stroke-dasharray="7.4 3.2" stroke-linejoin="round"/>
<g stroke="#5a9fe0" stroke-width="1.25" fill="none"><use href="#m" x="292.5" y="452.73"/><use href="#m" x="297.14" y="441.59"/><use href="#m" x="301.79" y="411.89"/><use href="#m" x="306.44" y="352.48"/><use href="#m" x="311.08" y="283.79"/><use href="#m" x="315.73" y="275.25"/><use href="#m" x="320.37" y="273.02"/><use href="#m" x="325.01" y="272.65"/><use href="#m" x="329.66" y="272.65"/><use href="#m" x="334.31" y="272.65"/><use href="#m" x="338.95" y="272.65"/><use href="#m" x="343.6" y="272.65"/><use href="#m" x="348.24" y="272.65"/><use href="#m" x="352.88" y="272.65"/><use href="#m" x="357.53" y="272.65"/><use href="#m" x="362.18" y="272.65"/><use href="#m" x="366.82" y="272.65"/><use href="#m" x="371.46" y="272.65"/><use href="#m" x="376.11" y="272.65"/><use href="#m" x="380.75" y="272.65"/><use href="#m" x="385.4" y="272.65"/><use href="#m" x="390.04" y="272.65"/><use href="#m" x="394.69" y="272.65"/><use href="#m" x="399.33" y="272.65"/><use href="#m" x="403.98" y="272.65"/><use href="#m" x="408.62" y="272.65"/><use href="#m" x="413.27" y="272.65"/><use href="#m" x="417.91" y="272.65"/><use href="#m" x="422.56" y="272.65"/><use href="#m" x="427.2" y="272.65"/><use href="#m" x="431.85" y="272.65"/><use href="#m" x="436.5" y="272.65"/><use href="#m" x="441.14" y="272.65"/><use href="#m" x="445.78" y="272.65"/><use href="#m" x="450.43" y="272.65"/><use href="#m" x="455.07" y="272.65"/><use href="#m" x="459.72" y="272.65"/><use href="#m" x="464.37" y="272.65"/><use href="#m" x="469.01" y="272.65"/><use href="#m" x="473.65" y="272.65"/></g>
<path d="M292.5,457.37 L297.14,449.95 L301.79,403.53 L306.44,332.99 L311.08,312.38 L315.73,301.61 L320.37,297.71 L325.01,292.14 L329.66,288.24 L334.31,284.53 L338.95,278.78 L343.6,276.18 L348.24,274.51 L352.88,273.58 L357.53,273.02 L362.18,272.65 L366.82,272.65 L371.46,272.65 L376.11,272.65 L380.75,272.65 L385.4,272.65 L390.04,272.65 L394.69,272.65 L399.33,272.65 L403.98,272.65 L408.62,272.65 L413.27,272.65 L417.91,272.65 L422.56,272.65 L427.2,272.65 L431.85,272.65 L436.5,272.65 L441.14,272.65 L445.78,272.65 L450.43,272.65 L455.07,272.65 L459.72,272.65 L464.37,272.65 L469.01,272.65 L473.65,272.65" fill="none" stroke="#3763ab" stroke-width="2" stroke-dasharray="7.4 3.2" stroke-linejoin="round"/>
<g stroke="#3763ab" stroke-width="1.25" fill="none"><use href="#m" x="292.5" y="457.37"/><use href="#m" x="297.14" y="449.95"/><use href="#m" x="301.79" y="403.53"/><use href="#m" x="306.44" y="332.99"/><use href="#m" x="311.08" y="312.38"/><use href="#m" x="315.73" y="301.61"/><use href="#m" x="320.37" y="297.71"/><use href="#m" x="325.01" y="292.14"/><use href="#m" x="329.66" y="288.24"/><use href="#m" x="334.31" y="284.53"/><use href="#m" x="338.95" y="278.78"/><use href="#m" x="343.6" y="276.18"/><use href="#m" x="348.24" y="274.51"/><use href="#m" x="352.88" y="273.58"/><use href="#m" x="357.53" y="273.02"/><use href="#m" x="362.18" y="272.65"/><use href="#m" x="366.82" y="272.65"/><use href="#m" x="371.46" y="272.65"/><use href="#m" x="376.11" y="272.65"/><use href="#m" x="380.75" y="272.65"/><use href="#m" x="385.4" y="272.65"/><use href="#m" x="390.04" y="272.65"/><use href="#m" x="394.69" y="272.65"/><use href="#m" x="399.33" y="272.65"/><use href="#m" x="403.98" y="272.65"/><use href="#m" x="408.62" y="272.65"/><use href="#m" x="413.27" y="272.65"/><use href="#m" x="417.91" y="272.65"/><use href="#m" x="422.56" y="272.65"/><use href="#m" x="427.2" y="272.65"/><use href="#m" x="431.85" y="272.65"/><use href="#m" x="436.5" y="272.65"/><use href="#m" x="441.14" y="272.65"/><use href="#m" x="445.78" y="272.65"/><use href="#m" x="450.43" y="272.65"/><use href="#m" x="455.07" y="272.65"/><use href="#m" x="459.72" y="272.65"/><use href="#m" x="464.37" y="272.65"/><use href="#m" x="469.01" y="272.65"/><use href="#m" x="473.65" y="272.65"/></g>
<path d="M292.5,457.56 L297.14,456.63 L301.79,445.49 L306.44,432.49 L311.08,423.58 L315.73,419.31 L320.37,418.01 L325.01,417.46 L329.66,417.46 L334.31,417.46 L338.95,417.46 L343.6,417.46 L348.24,417.46 L352.88,417.46 L357.53,417.46 L362.18,417.46 L366.82,417.46 L371.46,417.46 L376.11,417.46 L380.75,417.46 L385.4,417.46 L390.04,416.53 L394.69,411.89 L399.33,405.02 L403.98,393.88 L408.62,384.78 L413.27,373.64 L417.91,348.77 L422.56,323.89 L427.2,285.46 L431.85,276.18 L436.5,273.76 L441.14,272.84 L445.78,272.84 L450.43,272.84 L455.07,272.84 L459.72,272.84 L464.37,272.84 L469.01,272.84 L473.65,272.84" fill="none" stroke="#16195e" stroke-width="2" stroke-dasharray="7.4 3.2" stroke-linejoin="round"/>
<g stroke="#16195e" stroke-width="1.25" fill="none"><use href="#m" x="292.5" y="457.56"/><use href="#m" x="297.14" y="456.63"/><use href="#m" x="301.79" y="445.49"/><use href="#m" x="306.44" y="432.49"/><use href="#m" x="311.08" y="423.58"/><use href="#m" x="315.73" y="419.31"/><use href="#m" x="320.37" y="418.01"/><use href="#m" x="325.01" y="417.46"/><use href="#m" x="329.66" y="417.46"/><use href="#m" x="334.31" y="417.46"/><use href="#m" x="338.95" y="417.46"/><use href="#m" x="343.6" y="417.46"/><use href="#m" x="348.24" y="417.46"/><use href="#m" x="352.88" y="417.46"/><use href="#m" x="357.53" y="417.46"/><use href="#m" x="362.18" y="417.46"/><use href="#m" x="366.82" y="417.46"/><use href="#m" x="371.46" y="417.46"/><use href="#m" x="376.11" y="417.46"/><use href="#m" x="380.75" y="417.46"/><use href="#m" x="385.4" y="417.46"/><use href="#m" x="390.04" y="416.53"/><use href="#m" x="394.69" y="411.89"/><use href="#m" x="399.33" y="405.02"/><use href="#m" x="403.98" y="393.88"/><use href="#m" x="408.62" y="384.78"/><use href="#m" x="413.27" y="373.64"/><use href="#m" x="417.91" y="348.77"/><use href="#m" x="422.56" y="323.89"/><use href="#m" x="427.2" y="285.46"/><use href="#m" x="431.85" y="276.18"/><use href="#m" x="436.5" y="273.76"/><use href="#m" x="441.14" y="272.84"/><use href="#m" x="445.78" y="272.84"/><use href="#m" x="450.43" y="272.84"/><use href="#m" x="455.07" y="272.84"/><use href="#m" x="459.72" y="272.84"/><use href="#m" x="464.37" y="272.84"/><use href="#m" x="469.01" y="272.84"/><use href="#m" x="473.65" y="272.84"/></g>
</g>
<g clip-path="url(#c12)">
<path d="M531.9,376.61 L536.54,326.49 L541.19,278.22 L545.83,274.51 L550.48,272.65 L555.12,272.65 L559.77,272.65 L564.41,272.65 L569.06,272.65 L573.7,272.65 L578.35,272.65 L583,272.65 L587.64,272.65 L592.28,272.65 L596.93,272.65 L601.57,272.65 L606.22,272.65 L610.87,272.65 L615.51,272.65 L620.15,272.65 L624.8,272.65 L629.44,272.65 L634.09,272.65 L638.74,272.65 L643.38,272.65 L648.02,272.65 L652.67,272.65 L657.31,272.65 L661.96,272.65 L666.61,272.65 L671.25,272.65 L675.89,272.65 L680.54,272.65 L685.18,272.65 L689.83,272.65 L694.47,272.65 L699.12,272.65 L703.76,272.65 L708.41,272.65 L713.05,272.65" fill="none" stroke="#f6bccb" stroke-width="2" stroke-dasharray="7.4 3.2" stroke-linejoin="round"/>
<g stroke="#f6bccb" stroke-width="1.25" fill="none"><use href="#m" x="531.9" y="376.61"/><use href="#m" x="536.54" y="326.49"/><use href="#m" x="541.19" y="278.22"/><use href="#m" x="545.83" y="274.51"/><use href="#m" x="550.48" y="272.65"/><use href="#m" x="555.12" y="272.65"/><use href="#m" x="559.77" y="272.65"/><use href="#m" x="564.41" y="272.65"/><use href="#m" x="569.06" y="272.65"/><use href="#m" x="573.7" y="272.65"/><use href="#m" x="578.35" y="272.65"/><use href="#m" x="583" y="272.65"/><use href="#m" x="587.64" y="272.65"/><use href="#m" x="592.28" y="272.65"/><use href="#m" x="596.93" y="272.65"/><use href="#m" x="601.57" y="272.65"/><use href="#m" x="606.22" y="272.65"/><use href="#m" x="610.87" y="272.65"/><use href="#m" x="615.51" y="272.65"/><use href="#m" x="620.15" y="272.65"/><use href="#m" x="624.8" y="272.65"/><use href="#m" x="629.44" y="272.65"/><use href="#m" x="634.09" y="272.65"/><use href="#m" x="638.74" y="272.65"/><use href="#m" x="643.38" y="272.65"/><use href="#m" x="648.02" y="272.65"/><use href="#m" x="652.67" y="272.65"/><use href="#m" x="657.31" y="272.65"/><use href="#m" x="661.96" y="272.65"/><use href="#m" x="666.61" y="272.65"/><use href="#m" x="671.25" y="272.65"/><use href="#m" x="675.89" y="272.65"/><use href="#m" x="680.54" y="272.65"/><use href="#m" x="685.18" y="272.65"/><use href="#m" x="689.83" y="272.65"/><use href="#m" x="694.47" y="272.65"/><use href="#m" x="699.12" y="272.65"/><use href="#m" x="703.76" y="272.65"/><use href="#m" x="708.41" y="272.65"/><use href="#m" x="713.05" y="272.65"/></g>
<path d="M531.9,322.78 L536.54,320.92 L541.19,273.58 L545.83,272.65 L550.48,272.65 L555.12,272.65 L559.77,272.65 L564.41,272.65 L569.06,272.65 L573.7,272.65 L578.35,272.65 L583,272.65 L587.64,272.65 L592.28,272.65 L596.93,272.65 L601.57,272.65 L606.22,272.65 L610.87,272.65 L615.51,272.65 L620.15,272.65 L624.8,272.65 L629.44,272.65 L634.09,272.65 L638.74,272.65 L643.38,272.65 L648.02,272.65 L652.67,272.65 L657.31,272.65 L661.96,272.65 L666.61,272.65 L671.25,272.65 L675.89,272.65 L680.54,272.65 L685.18,272.65 L689.83,272.65 L694.47,272.65 L699.12,272.65 L703.76,272.65 L708.41,272.65 L713.05,272.65" fill="none" stroke="#f2a0b4" stroke-width="2" stroke-dasharray="7.4 3.2" stroke-linejoin="round"/>
<g stroke="#f2a0b4" stroke-width="1.25" fill="none"><use href="#m" x="531.9" y="322.78"/><use href="#m" x="536.54" y="320.92"/><use href="#m" x="541.19" y="273.58"/><use href="#m" x="545.83" y="272.65"/><use href="#m" x="550.48" y="272.65"/><use href="#m" x="555.12" y="272.65"/><use href="#m" x="559.77" y="272.65"/><use href="#m" x="564.41" y="272.65"/><use href="#m" x="569.06" y="272.65"/><use href="#m" x="573.7" y="272.65"/><use href="#m" x="578.35" y="272.65"/><use href="#m" x="583" y="272.65"/><use href="#m" x="587.64" y="272.65"/><use href="#m" x="592.28" y="272.65"/><use href="#m" x="596.93" y="272.65"/><use href="#m" x="601.57" y="272.65"/><use href="#m" x="606.22" y="272.65"/><use href="#m" x="610.87" y="272.65"/><use href="#m" x="615.51" y="272.65"/><use href="#m" x="620.15" y="272.65"/><use href="#m" x="624.8" y="272.65"/><use href="#m" x="629.44" y="272.65"/><use href="#m" x="634.09" y="272.65"/><use href="#m" x="638.74" y="272.65"/><use href="#m" x="643.38" y="272.65"/><use href="#m" x="648.02" y="272.65"/><use href="#m" x="652.67" y="272.65"/><use href="#m" x="657.31" y="272.65"/><use href="#m" x="661.96" y="272.65"/><use href="#m" x="666.61" y="272.65"/><use href="#m" x="671.25" y="272.65"/><use href="#m" x="675.89" y="272.65"/><use href="#m" x="680.54" y="272.65"/><use href="#m" x="685.18" y="272.65"/><use href="#m" x="689.83" y="272.65"/><use href="#m" x="694.47" y="272.65"/><use href="#m" x="699.12" y="272.65"/><use href="#m" x="703.76" y="272.65"/><use href="#m" x="708.41" y="272.65"/><use href="#m" x="713.05" y="272.65"/></g>
<path d="M531.9,421.17 L536.54,300.5 L541.19,296.78 L545.83,295.86 L550.48,294.93 L555.12,285.27 L559.77,275.06 L564.41,272.65 L569.06,272.65 L573.7,272.65 L578.35,272.65 L583,272.65 L587.64,272.65 L592.28,272.65 L596.93,272.65 L601.57,272.65 L606.22,272.65 L610.87,272.65 L615.51,272.65 L620.15,272.65 L624.8,272.65 L629.44,272.65 L634.09,272.65 L638.74,272.65 L643.38,272.65 L648.02,272.65 L652.67,272.65 L657.31,272.65 L661.96,272.65 L666.61,272.65 L671.25,272.65 L675.89,272.65 L680.54,272.65 L685.18,272.65 L689.83,272.65 L694.47,272.65 L699.12,272.65 L703.76,272.65 L708.41,272.65 L713.05,272.65" fill="none" stroke="#b0424e" stroke-width="2" stroke-dasharray="7.4 3.2" stroke-linejoin="round"/>
<g stroke="#b0424e" stroke-width="1.25" fill="none"><use href="#m" x="531.9" y="421.17"/><use href="#m" x="536.54" y="300.5"/><use href="#m" x="541.19" y="296.78"/><use href="#m" x="545.83" y="295.86"/><use href="#m" x="550.48" y="294.93"/><use href="#m" x="555.12" y="285.27"/><use href="#m" x="559.77" y="275.06"/><use href="#m" x="564.41" y="272.65"/><use href="#m" x="569.06" y="272.65"/><use href="#m" x="573.7" y="272.65"/><use href="#m" x="578.35" y="272.65"/><use href="#m" x="583" y="272.65"/><use href="#m" x="587.64" y="272.65"/><use href="#m" x="592.28" y="272.65"/><use href="#m" x="596.93" y="272.65"/><use href="#m" x="601.57" y="272.65"/><use href="#m" x="606.22" y="272.65"/><use href="#m" x="610.87" y="272.65"/><use href="#m" x="615.51" y="272.65"/><use href="#m" x="620.15" y="272.65"/><use href="#m" x="624.8" y="272.65"/><use href="#m" x="629.44" y="272.65"/><use href="#m" x="634.09" y="272.65"/><use href="#m" x="638.74" y="272.65"/><use href="#m" x="643.38" y="272.65"/><use href="#m" x="648.02" y="272.65"/><use href="#m" x="652.67" y="272.65"/><use href="#m" x="657.31" y="272.65"/><use href="#m" x="661.96" y="272.65"/><use href="#m" x="666.61" y="272.65"/><use href="#m" x="671.25" y="272.65"/><use href="#m" x="675.89" y="272.65"/><use href="#m" x="680.54" y="272.65"/><use href="#m" x="685.18" y="272.65"/><use href="#m" x="689.83" y="272.65"/><use href="#m" x="694.47" y="272.65"/><use href="#m" x="699.12" y="272.65"/><use href="#m" x="703.76" y="272.65"/><use href="#m" x="708.41" y="272.65"/><use href="#m" x="713.05" y="272.65"/></g>
<path d="M531.9,451.25 L536.54,421.91 L541.19,419.31 L545.83,418.39 L550.48,418.01 L555.12,417.83 L559.77,417.83 L564.41,417.83 L569.06,417.83 L573.7,417.83 L578.35,417.83 L583,417.83 L587.64,417.83 L592.28,417.83 L596.93,417.83 L601.57,417.83 L606.22,417.83 L610.87,416.16 L615.51,414.12 L620.15,385.53 L624.8,272.65 L629.44,272.65 L634.09,272.65 L638.74,272.65 L643.38,272.65 L648.02,272.65 L652.67,272.65 L657.31,272.65 L661.96,272.65 L666.61,272.65 L671.25,272.65 L675.89,272.65 L680.54,272.65 L685.18,272.65 L689.83,272.65 L694.47,272.65 L699.12,272.65 L703.76,272.65 L708.41,272.65 L713.05,272.65" fill="none" stroke="#6b0010" stroke-width="2" stroke-dasharray="7.4 3.2" stroke-linejoin="round"/>
<g stroke="#6b0010" stroke-width="1.25" fill="none"><use href="#m" x="531.9" y="451.25"/><use href="#m" x="536.54" y="421.91"/><use href="#m" x="541.19" y="419.31"/><use href="#m" x="545.83" y="418.39"/><use href="#m" x="550.48" y="418.01"/><use href="#m" x="555.12" y="417.83"/><use href="#m" x="559.77" y="417.83"/><use href="#m" x="564.41" y="417.83"/><use href="#m" x="569.06" y="417.83"/><use href="#m" x="573.7" y="417.83"/><use href="#m" x="578.35" y="417.83"/><use href="#m" x="583" y="417.83"/><use href="#m" x="587.64" y="417.83"/><use href="#m" x="592.28" y="417.83"/><use href="#m" x="596.93" y="417.83"/><use href="#m" x="601.57" y="417.83"/><use href="#m" x="606.22" y="417.83"/><use href="#m" x="610.87" y="416.16"/><use href="#m" x="615.51" y="414.12"/><use href="#m" x="620.15" y="385.53"/><use href="#m" x="624.8" y="272.65"/><use href="#m" x="629.44" y="272.65"/><use href="#m" x="634.09" y="272.65"/><use href="#m" x="638.74" y="272.65"/><use href="#m" x="643.38" y="272.65"/><use href="#m" x="648.02" y="272.65"/><use href="#m" x="652.67" y="272.65"/><use href="#m" x="657.31" y="272.65"/><use href="#m" x="661.96" y="272.65"/><use href="#m" x="666.61" y="272.65"/><use href="#m" x="671.25" y="272.65"/><use href="#m" x="675.89" y="272.65"/><use href="#m" x="680.54" y="272.65"/><use href="#m" x="685.18" y="272.65"/><use href="#m" x="689.83" y="272.65"/><use href="#m" x="694.47" y="272.65"/><use href="#m" x="699.12" y="272.65"/><use href="#m" x="703.76" y="272.65"/><use href="#m" x="708.41" y="272.65"/><use href="#m" x="713.05" y="272.65"/></g>
</g>
<rect x="43.8" y="18.3" width="199.8" height="204.2" fill="none" stroke="#262626" stroke-width="1.25"/>
<path d="M52.7,222.5v3.5M99.15,222.5v3.5M145.6,222.5v3.5M192.05,222.5v3.5M238.5,222.5v3.5M43.8,213h-3.5M43.8,169.12h-3.5M43.8,125.24h-3.5M43.8,81.36h-3.5M43.8,37.48h-3.5" stroke="#262626" stroke-width="1" fill="none"/>
<rect x="283.2" y="18.3" width="199.8" height="204.2" fill="none" stroke="#262626" stroke-width="1.25"/>
<path d="M292.5,222.5v3.5M338.95,222.5v3.5M385.4,222.5v3.5M431.85,222.5v3.5M478.3,222.5v3.5M283.2,213h-3.5M283.2,169.12h-3.5M283.2,125.24h-3.5M283.2,81.36h-3.5M283.2,37.48h-3.5" stroke="#262626" stroke-width="1" fill="none"/>
<rect x="522.6" y="18.3" width="199.8" height="204.2" fill="none" stroke="#262626" stroke-width="1.25"/>
<path d="M531.9,222.5v3.5M578.35,222.5v3.5M624.8,222.5v3.5M671.25,222.5v3.5M717.7,222.5v3.5M522.6,213h-3.5M522.6,169.12h-3.5M522.6,125.24h-3.5M522.6,81.36h-3.5M522.6,37.48h-3.5" stroke="#262626" stroke-width="1" fill="none"/>
<rect x="43.8" y="263.5" width="199.8" height="204.5" fill="none" stroke="#262626" stroke-width="1.25"/>
<path d="M52.7,468v3.5M99.15,468v3.5M145.6,468v3.5M192.05,468v3.5M238.5,468v3.5M43.8,458.3h-3.5M43.8,421.17h-3.5M43.8,384.04h-3.5M43.8,346.91h-3.5M43.8,309.78h-3.5M43.8,272.65h-3.5" stroke="#262626" stroke-width="1" fill="none"/>
<rect x="283.2" y="263.5" width="199.8" height="204.5" fill="none" stroke="#262626" stroke-width="1.25"/>
<path d="M292.5,468v3.5M338.95,468v3.5M385.4,468v3.5M431.85,468v3.5M478.3,468v3.5M283.2,458.3h-3.5M283.2,421.17h-3.5M283.2,384.04h-3.5M283.2,346.91h-3.5M283.2,309.78h-3.5M283.2,272.65h-3.5" stroke="#262626" stroke-width="1" fill="none"/>
<rect x="522.6" y="263.5" width="199.8" height="204.5" fill="none" stroke="#262626" stroke-width="1.25"/>
<path d="M531.9,468v3.5M578.35,468v3.5M624.8,468v3.5M671.25,468v3.5M717.7,468v3.5M522.6,458.3h-3.5M522.6,421.17h-3.5M522.6,384.04h-3.5M522.6,346.91h-3.5M522.6,309.78h-3.5M522.6,272.65h-3.5" stroke="#262626" stroke-width="1" fill="none"/>
<g font-family="Liberation Sans, sans-serif" font-size="10" fill="#1a1a1a" stroke="#1a1a1a" stroke-width="0.18"><text x="36.1" y="217.4" text-anchor="end" textLength="6.36" lengthAdjust="spacingAndGlyphs">0</text><text x="36.1" y="173.52" text-anchor="end" textLength="12.72" lengthAdjust="spacingAndGlyphs">20</text><text x="36.1" y="129.64" text-anchor="end" textLength="12.72" lengthAdjust="spacingAndGlyphs">40</text><text x="36.1" y="85.76" text-anchor="end" textLength="12.72" lengthAdjust="spacingAndGlyphs">60</text><text x="36.1" y="41.88" text-anchor="end" textLength="12.72" lengthAdjust="spacingAndGlyphs">80</text><text x="36.1" y="462.7" text-anchor="end" textLength="6.36" lengthAdjust="spacingAndGlyphs">0</text><text x="36.1" y="425.57" text-anchor="end" textLength="12.72" lengthAdjust="spacingAndGlyphs">20</text><text x="36.1" y="388.44" text-anchor="end" textLength="12.72" lengthAdjust="spacingAndGlyphs">40</text><text x="36.1" y="351.31" text-anchor="end" textLength="12.72" lengthAdjust="spacingAndGlyphs">60</text><text x="36.1" y="314.18" text-anchor="end" textLength="12.72" lengthAdjust="spacingAndGlyphs">80</text><text x="36.1" y="277.05" text-anchor="end" textLength="19.08" lengthAdjust="spacingAndGlyphs">100</text><text x="52.7" y="483.4" text-anchor="middle" textLength="6.36" lengthAdjust="spacingAndGlyphs">0</text><text x="99.15" y="483.4" text-anchor="middle" textLength="12.72" lengthAdjust="spacingAndGlyphs">10</text><text x="145.6" y="483.4" text-anchor="middle" textLength="12.72" lengthAdjust="spacingAndGlyphs">20</text><text x="192.05" y="483.4" text-anchor="middle" textLength="12.72" lengthAdjust="spacingAndGlyphs">30</text><text x="238.5" y="483.4" text-anchor="middle" textLength="12.72" lengthAdjust="spacingAndGlyphs">40</text><text x="144" y="496.6" text-anchor="middle" font-style="italic" font-size="11.5">n</text><text x="292.5" y="483.4" text-anchor="middle" textLength="6.36" lengthAdjust="spacingAndGlyphs">0</text><text x="338.95" y="483.4" text-anchor="middle" textLength="12.72" lengthAdjust="spacingAndGlyphs">10</text><text x="385.4" y="483.4" text-anchor="middle" textLength="12.72" lengthAdjust="spacingAndGlyphs">20</text><text x="431.85" y="483.4" text-anchor="middle" textLength="12.72" lengthAdjust="spacingAndGlyphs">30</text><text x="478.3" y="483.4" text-anchor="middle" textLength="12.72" lengthAdjust="spacingAndGlyphs">40</text><text x="383.4" y="496.6" text-anchor="middle" font-style="italic" font-size="11.5">n</text><text x="531.9" y="483.4" text-anchor="middle" textLength="6.36" lengthAdjust="spacingAndGlyphs">0</text><text x="578.35" y="483.4" text-anchor="middle" textLength="12.72" lengthAdjust="spacingAndGlyphs">10</text><text x="624.8" y="483.4" text-anchor="middle" textLength="12.72" lengthAdjust="spacingAndGlyphs">20</text><text x="671.25" y="483.4" text-anchor="middle" textLength="12.72" lengthAdjust="spacingAndGlyphs">30</text><text x="717.7" y="483.4" text-anchor="middle" textLength="12.72" lengthAdjust="spacingAndGlyphs">40</text><text x="622.8" y="496.6" text-anchor="middle" font-style="italic" font-size="11.5">n</text><text x="143.7" y="11.6" text-anchor="middle" font-size="12.5" stroke-width="0" fill="#000" textLength="11.4" lengthAdjust="spacingAndGlyphs">a)</text><text x="383.1" y="11.6" text-anchor="middle" font-size="12.5" stroke-width="0" fill="#000" textLength="11.4" lengthAdjust="spacingAndGlyphs">b)</text><text x="622.5" y="11.6" text-anchor="middle" font-size="12.5" stroke-width="0" fill="#000" textLength="11.4" lengthAdjust="spacingAndGlyphs">c)</text><text x="143.7" y="256.8" text-anchor="middle" font-size="12.5" stroke-width="0" fill="#000" textLength="11.4" lengthAdjust="spacingAndGlyphs">d)</text><text x="383.1" y="256.8" text-anchor="middle" font-size="12.5" stroke-width="0" fill="#000" textLength="11.4" lengthAdjust="spacingAndGlyphs">e)</text><text x="622.5" y="256.8" text-anchor="middle" font-size="12.5" stroke-width="0" fill="#000" textLength="11.4" lengthAdjust="spacingAndGlyphs">f)</text><g transform="translate(16.5,140.7) rotate(-90)"><text x="0" y="0" textLength="19.4" lengthAdjust="spacingAndGlyphs">PMF</text><text x="22.0" y="0" textLength="18.4" lengthAdjust="spacingAndGlyphs">[%]</text></g><g transform="translate(9.9,386.05) rotate(-90)"><text x="0" y="0" textLength="19.4" lengthAdjust="spacingAndGlyphs">CDF</text><text x="22.0" y="0" textLength="18.4" lengthAdjust="spacingAndGlyphs">[%]</text></g></g>
</g>
</svg>
</div></body></html>
